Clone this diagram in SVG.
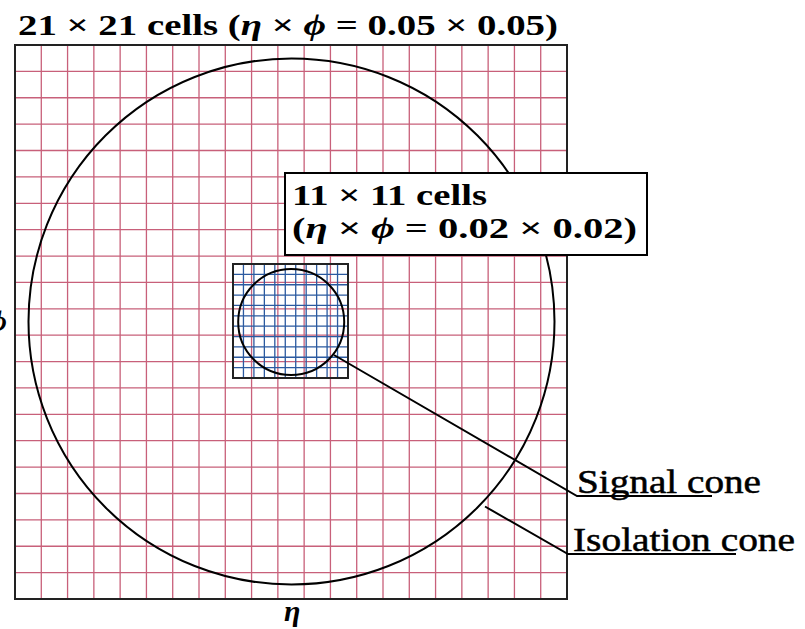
<svg xmlns="http://www.w3.org/2000/svg" width="805" height="629" viewBox="0 0 805 629">
<style>
.bg{fill:#ffffff}
.red{fill:none;stroke:#c8607a;stroke-width:1.3}
.blue{fill:none;stroke:#2b5aa0;stroke-width:1.3}
.frame{fill:none;stroke:#222;stroke-width:2}
.circ{fill:none;stroke:#000;stroke-width:2}
.box{fill:#fff;stroke:#000;stroke-width:2}
.lead{fill:none;stroke:#000;stroke-width:2}
.bold{font-family:"Liberation Serif","DejaVu Serif",serif;font-weight:bold;fill:#000}
.reg{font-family:"Liberation Serif","DejaVu Serif",serif;font-weight:normal;fill:#000;stroke:#000;stroke-width:0.5}
.it{font-style:italic}
</style>
<rect class="bg" x="0" y="0" width="805" height="629"/>
<g id="title">
<text class="bold" x="18" y="35" font-size="29" textLength="540" lengthAdjust="spacingAndGlyphs">21 × 21 cells (<tspan class="it">η</tspan> × <tspan class="it">ϕ</tspan> = 0.05 × 0.05)</text>
</g>
<g id="outer-grid">
<path class="red" d="M41.29 45V599M67.57 45V599M93.86 45V599M120.14 45V599M146.43 45V599M172.71 45V599M199 45V599M225.29 45V599M251.57 45V599M277.86 45V599M304.14 45V599M330.43 45V599M356.71 45V599M383 45V599M409.29 45V599M435.57 45V599M461.86 45V599M488.14 45V599M514.43 45V599M540.71 45V599M15 71.38H567M15 97.76H567M15 124.14H567M15 150.52H567M15 176.9H567M15 203.29H567M15 229.67H567M15 256.05H567M15 282.43H567M15 308.81H567M15 335.19H567M15 361.57H567M15 387.95H567M15 414.33H567M15 440.71H567M15 467.1H567M15 493.48H567M15 519.86H567M15 546.24H567M15 572.62H567"/>
<rect class="frame" x="15" y="45" width="552" height="554"/>
</g>
<g id="inner-grid">
<path class="blue" d="M243.45 264V378M253.91 264V378M264.36 264V378M274.82 264V378M285.27 264V378M295.73 264V378M306.18 264V378M316.64 264V378M327.09 264V378M337.55 264V378M233 274.36H348M233 284.73H348M233 295.09H348M233 305.45H348M233 315.82H348M233 326.18H348M233 336.55H348M233 346.91H348M233 357.27H348M233 367.64H348"/>
<rect class="frame" x="233" y="264" width="115" height="114" stroke="#000"/>
</g>
<g id="isolation-cone">
<circle class="circ" cx="291.5" cy="321.5" r="263"/>
</g>
<g id="signal-cone">
<circle class="circ" cx="291.2" cy="322" r="53"/>
</g>
<g id="inner-label">
<rect class="box" x="285" y="173" width="362" height="82"/>
<text class="bold" x="292" y="205" font-size="30" textLength="195" lengthAdjust="spacingAndGlyphs">11 × 11 cells</text>
<text class="bold" x="292" y="238" font-size="30" textLength="345" lengthAdjust="spacingAndGlyphs">(<tspan class="it">η</tspan> × <tspan class="it">ϕ</tspan> = 0.02 × 0.02)</text>
</g>
<g id="connectors">
<path class="lead" d="M334 355L577 496H712"/>
<path class="lead" d="M485 506.5L568 554H736"/>
</g>
<g id="signal-label">
<text class="reg" x="577" y="493" font-size="33" textLength="184" lengthAdjust="spacingAndGlyphs">Signal cone</text>
</g>
<g id="isolation-label">
<text class="reg" x="573" y="551" font-size="33" textLength="222" lengthAdjust="spacingAndGlyphs">Isolation cone</text>
</g>
<g id="axis-labels">
<text class="bold it" x="-10" y="331" font-size="29">ϕ</text>
<text class="bold it" x="284" y="621" font-size="30">η</text>
</g>
</svg>
